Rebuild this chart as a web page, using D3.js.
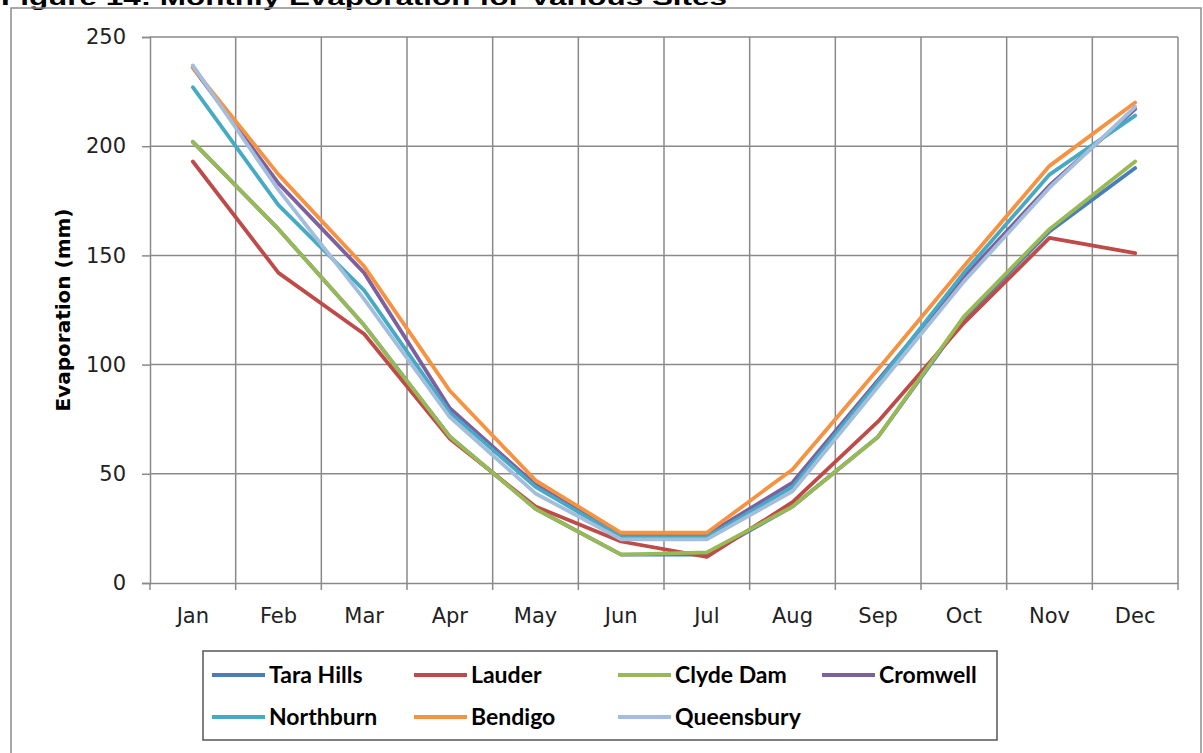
<!DOCTYPE html>
<html>
<head>
<meta charset="utf-8">
<script src="https://cdn.jsdelivr.net/npm/d3@7"></script>
<style>
  html, body { margin: 0; padding: 0; background: #fff; }
  svg { display: block; }
</style>
</head>
<body>
<svg id="chart" width="1203" height="753"></svg>
<script>
// Monthly evaporation (mm) at each site
const months = ["Jan", "Feb", "Mar", "Apr", "May", "Jun", "Jul", "Aug", "Sep", "Oct", "Nov", "Dec"];
const yTicks = [0, 50, 100, 150, 200, 250];

const taraHills  = [202, 162, 118, 67, 34, 13, 13, 35, 67, 121, 161, 190];
const lauder     = [193, 142, 114, 66, 35, 19, 12, 37, 74, 119, 158, 151];
const clydeDam   = [202, 162, 118, 67, 34, 13, 14, 35, 67, 122, 162, 193];
const cromwell   = [236, 183, 142, 80, 45, 22, 22, 46, 93, 140, 182, 217];
const northburn  = [227, 173, 134, 78, 44, 21, 21, 44, 92, 142, 187, 214];
const bendigo    = [236, 187, 145, 88, 47, 23, 23, 52, 98, 145, 191, 220];
const queensbury = [237, 180, 130, 76, 41, 20, 20, 42, 90, 138, 181, 218];

const siteNames  = ["Tara Hills", "Lauder", "Clyde Dam", "Cromwell", "Northburn", "Bendigo", "Queensbury"];
const siteValues = [taraHills, lauder, clydeDam, cromwell, northburn, bendigo, queensbury];
const siteColors = ["#4a7ebb", "#be4b48", "#98b954", "#7d60a0", "#46aac5", "#f69240", "#a3bddc"];

const series = siteNames.map((name, i) => ({ name, values: siteValues[i], color: siteColors[i] }));

const svg = d3.select("#chart");
const plot = { left: 150, right: 1178, top: 37, bottom: 583 };
const gridColor = "#8a8a8a";

// Title (sits partly above the frame)
svg.append("text")
  .attr("x", 1).attr("y", 5)
  .attr("font-family", "Liberation Sans, Arial, sans-serif")
  .attr("font-weight", "bold")
  .attr("font-size", 22)
  .attr("textLength", 726)
  .attr("lengthAdjust", "spacingAndGlyphs")
  .attr("fill", "#000")
  .text("Figure 14:  Monthly Evaporation for Various Sites");

// Chart frame
svg.append("rect")
  .attr("x", 11).attr("y", 8)
  .attr("width", 1190).attr("height", 760)
  .attr("fill", "none")
  .attr("stroke", "#8c8c8c")
  .attr("stroke-width", 1.5);

const x = d3.scaleBand().domain(months).range([plot.left, plot.right]);
const y = d3.scaleLinear().domain([0, 250]).range([plot.bottom, plot.top]);
const bw = x.bandwidth();
const boundaries = d3.range(months.length + 1).map(i => plot.left + i * bw);

// Horizontal gridlines
svg.append("g").selectAll("line")
  .data(yTicks.filter(v => v > 0))
  .join("line")
  .attr("x1", plot.left).attr("x2", plot.right)
  .attr("y1", d => y(d)).attr("y2", d => y(d))
  .attr("stroke", gridColor).attr("stroke-width", 1.5);

// Vertical gridlines between months
svg.append("g").selectAll("line")
  .data(boundaries.slice(1))
  .join("line")
  .attr("x1", d => d).attr("x2", d => d)
  .attr("y1", plot.top).attr("y2", plot.bottom)
  .attr("stroke", gridColor).attr("stroke-width", 1.5);

// Category tick marks on the x axis
svg.append("g").selectAll("line")
  .data(boundaries)
  .join("line")
  .attr("x1", d => d).attr("x2", d => d)
  .attr("y1", plot.bottom).attr("y2", plot.bottom + 7)
  .attr("stroke", gridColor).attr("stroke-width", 1.5);

// Y axis
const yAxis = svg.append("g")
  .attr("transform", `translate(${plot.left},0)`)
  .call(d3.axisLeft(y).tickValues(yTicks).tickSize(8).tickPadding(16).tickFormat(d3.format("d")));
yAxis.select(".domain").attr("stroke", gridColor).attr("stroke-width", 1.5);
yAxis.selectAll(".tick line").attr("stroke", gridColor).attr("stroke-width", 1.5);
yAxis.selectAll(".tick text")
  .attr("font-family", "DejaVu Sans, sans-serif")
  .attr("font-size", 21)
  .attr("fill", "#222");

// X axis labels
const xAxis = svg.append("g")
  .attr("transform", `translate(0,${plot.bottom})`)
  .call(d3.axisBottom(x).tickSize(0).tickPadding(25));
xAxis.select(".domain").attr("stroke", gridColor).attr("stroke-width", 1.5);
xAxis.selectAll(".tick text")
  .attr("font-family", "DejaVu Sans, sans-serif")
  .attr("font-size", 21)
  .attr("fill", "#222");

// Y axis title
svg.append("text")
  .attr("transform", `translate(70,${(plot.top + plot.bottom) / 2}) rotate(-90)`)
  .attr("text-anchor", "middle")
  .attr("font-family", "DejaVu Sans, sans-serif")
  .attr("font-weight", "bold")
  .attr("font-size", 20)
  .attr("fill", "#000")
  .text("Evaporation (mm)");

// Series lines
const line = d3.line()
  .x((d, i) => x(months[i]) + bw / 2)
  .y(d => y(d));

svg.append("g").selectAll("path")
  .data(series)
  .join("path")
  .attr("d", d => line(d.values))
  .attr("fill", "none")
  .attr("stroke", d => d.color)
  .attr("stroke-width", 3.8)
  .attr("stroke-linejoin", "round")
  .attr("stroke-linecap", "round");

// Legend
const legend = svg.append("g");
legend.append("rect")
  .attr("x", 203).attr("y", 651)
  .attr("width", 794).attr("height", 89)
  .attr("fill", "#fff")
  .attr("stroke", "#555")
  .attr("stroke-width", 1.5);

const colX = [212, 414, 618, 822];
const rowY = [675, 717];
series.forEach((s, i) => {
  const cx = colX[i % 4];
  const cy = rowY[Math.floor(i / 4)];
  legend.append("line")
    .attr("x1", cx).attr("x2", cx + 53)
    .attr("y1", cy).attr("y2", cy)
    .attr("stroke", s.color)
    .attr("stroke-width", 3.8);
  legend.append("text")
    .attr("x", cx + 57).attr("y", cy)
    .attr("dy", "0.35em")
    .attr("font-family", "Lato, sans-serif")
    .attr("font-weight", "bold")
    .attr("font-size", 23)
    .attr("fill", "#000")
    .text(s.name);
});
</script>
</body>
</html>
